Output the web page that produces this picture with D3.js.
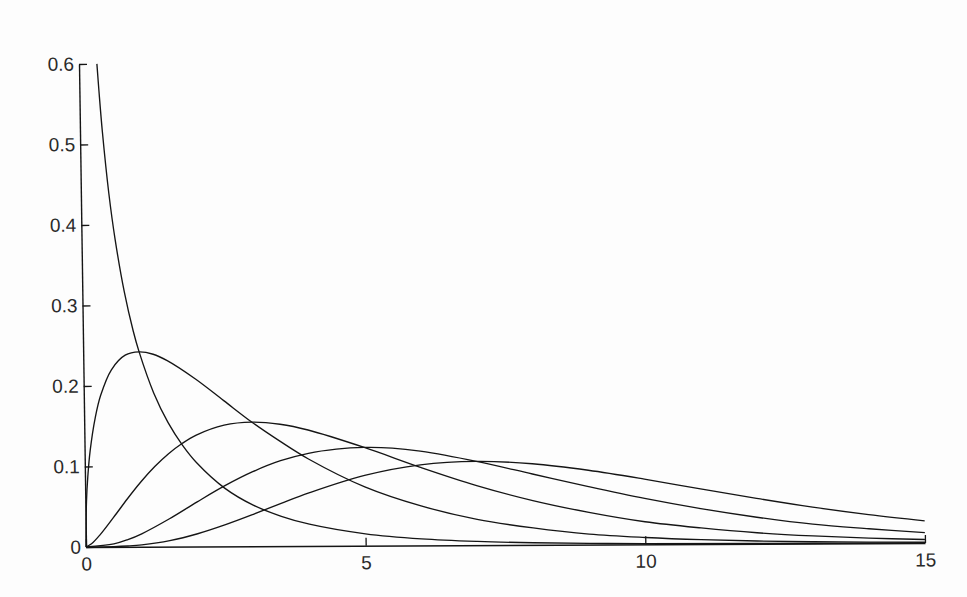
<!DOCTYPE html>
<html>
<head>
<meta charset="utf-8">
<script src="https://cdn.jsdelivr.net/npm/d3@7"></script>
<style>
  html, body { margin: 0; padding: 0; background: #fdfdfd; }
  svg { display: block; }
</style>
</head>
<body>
<script>
// ---- Data (density curves, 5 series) ----
const xTicks = [0, 5, 10, 15];
const yTicks = [0, 0.1, 0.2, 0.3, 0.4, 0.5, 0.6];

const s1X = [0.32, 0.35, 0.4, 0.5, 0.6, 0.75, 0.9, 1, 1.25, 1.5, 1.75, 2, 2.5, 3, 3.5, 4, 5, 6, 7, 8, 9, 10, 12, 15];
const s1Y = [0.600, 0.566, 0.516, 0.439, 0.382, 0.317, 0.268, 0.242, 0.191, 0.154, 0.126, 0.104, 0.072, 0.051, 0.037, 0.027, 0.0147, 0.0081, 0.0046, 0.0026, 0.0015, 0.0009, 0.0003, 0.0001];

const s2X = [0, 0.02, 0.05, 0.1, 0.2, 0.3, 0.5, 0.75, 1, 1.25, 1.5, 2, 2.5, 3, 3.5, 4, 5, 6, 7, 8, 9, 10, 11, 12, 13, 14, 15];
const s2Y = [0, 0.056, 0.087, 0.120, 0.161, 0.188, 0.220, 0.238, 0.242, 0.239, 0.231, 0.208, 0.181, 0.154, 0.130, 0.108, 0.073, 0.049, 0.032, 0.021, 0.013, 0.0085, 0.0054, 0.0034, 0.0022, 0.0014, 0.0009];

const s3X = [0, 0.1, 0.25, 0.5, 0.75, 1, 1.25, 1.5, 1.75, 2, 2.5, 3, 3.5, 4, 5, 6, 7, 8, 9, 10, 11, 12, 13, 14, 15];
const s3Y = [0, 0.004, 0.0147, 0.0366, 0.0594, 0.0807, 0.0995, 0.1154, 0.1283, 0.1384, 0.1506, 0.1542, 0.1513, 0.144, 0.122, 0.097, 0.074, 0.055, 0.040, 0.028, 0.020, 0.0137, 0.0094, 0.0064, 0.0043];

const s4X = [0, 0.5, 0.75, 1, 1.5, 2, 2.5, 3, 3.5, 4, 4.5, 5, 5.5, 6, 7, 8, 9, 10, 11, 12, 13, 14, 15];
const s4Y = [0, 0.0037, 0.0089, 0.0161, 0.0346, 0.0554, 0.0753, 0.0925, 0.106, 0.115, 0.120, 0.122, 0.121, 0.117, 0.104, 0.088, 0.072, 0.057, 0.044, 0.033, 0.024, 0.018, 0.0128];

const s5X = [0, 0.5, 0.75, 1, 1.5, 2, 2.5, 3, 3.5, 4, 5, 6, 7, 8, 9, 10, 11, 12, 13, 14, 15];
const s5Y = [0, 0.0003, 0.001, 0.0023, 0.0074, 0.0158, 0.0269, 0.0396, 0.053, 0.0658, 0.0872, 0.100, 0.104, 0.1007, 0.0923, 0.081, 0.0685, 0.0564, 0.0452, 0.0356, 0.0275];

const seriesList = [
  { x: s1X, y: s1Y },
  { x: s2X, y: s2Y },
  { x: s3X, y: s3Y },
  { x: s4X, y: s4Y },
  { x: s5X, y: s5Y }
];

// ---- Layout ----
const W = 967, H = 597;
const x0 = 86, x1 = 925, yBottom = 547, yTop = 64;
const shearA = 0.0145;   // scan tilt of vertical lines
const shearB = -0.0048;  // scan tilt of horizontal lines
const ink = "#151515";

const svg = d3.select("body").append("svg").attr("width", W).attr("height", H);
svg.append("rect").attr("width", W).attr("height", H).attr("fill", "#fdfdfd");

const g = svg.append("g")
  .attr("transform", `matrix(1, ${shearB}, ${shearA}, 1, ${-shearA * yBottom}, ${-shearB * x0})`);

const x = d3.scaleLinear().domain([0, 15]).range([x0, x1]);
const y = d3.scaleLinear().domain([0, 0.6]).range([yBottom, yTop]);

// X axis
const xAxis = g.append("g")
  .attr("transform", `translate(0,${yBottom})`)
  .call(d3.axisBottom(x).tickValues(xTicks).tickFormat(d3.format("d"))
    .tickSizeInner(-8).tickSizeOuter(0).tickPadding(10));

// Y axis
const yAxis = g.append("g")
  .attr("transform", `translate(${x0},0)`)
  .call(d3.axisLeft(y).tickValues(yTicks)
    .tickFormat(d => d === 0 ? "0" : d.toFixed(1))
    .tickSizeInner(-8).tickSizeOuter(0).tickPadding(5));

[xAxis, yAxis].forEach(ax => {
  ax.attr("font-family", "'Liberation Sans', Arial, Helvetica, sans-serif")
    .attr("font-size", 19)
    .style("color", ink);
  ax.select(".domain").attr("stroke-width", 1.4);
  ax.selectAll(".tick line").attr("stroke-width", 1.3);
  ax.selectAll(".tick text").attr("fill", "#2a2a2a");
});

// Curves
const line = d3.line()
  .x(d => x(d[0]))
  .y(d => y(d[1]))
  .curve(d3.curveCatmullRom.alpha(0.5));

g.append("g").selectAll("path")
  .data(seriesList)
  .join("path")
  .attr("d", s => line(s.x.map((v, i) => [v, s.y[i]])))
  .attr("fill", "none")
  .attr("stroke", ink)
  .attr("stroke-width", 1.35);
</script>
</body>
</html>
